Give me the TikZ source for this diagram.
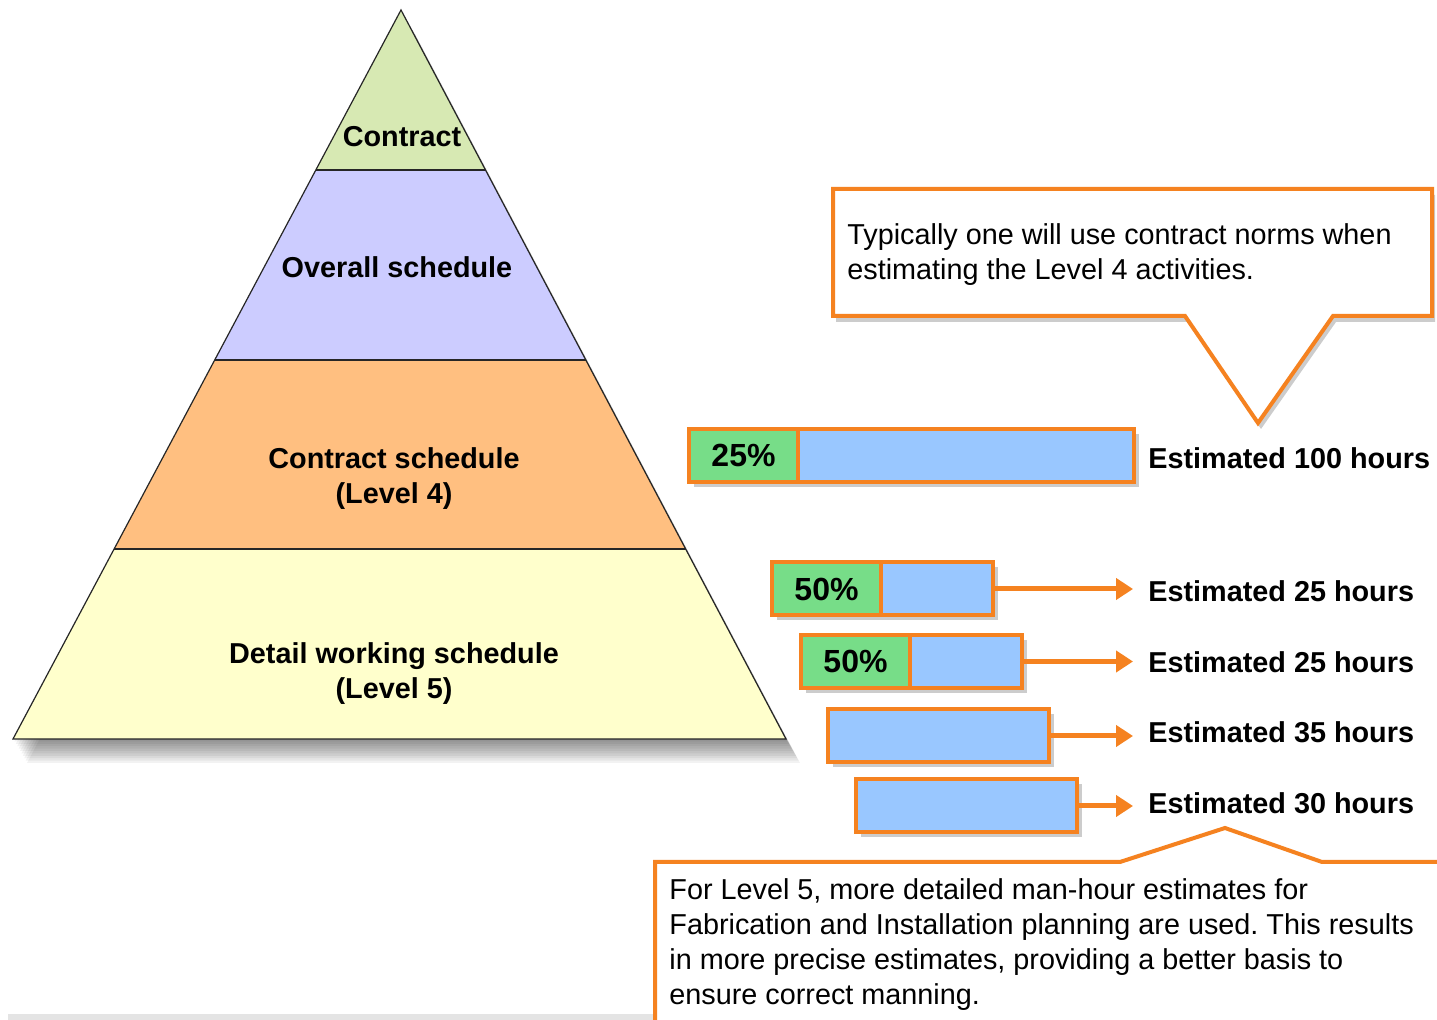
\documentclass[tikz,border=0pt]{standalone}
\usepackage{fontspec}
\setmainfont{Liberation Sans}
\usetikzlibrary{arrows.meta,shadows}
\definecolor{orng}{RGB}{245,130,32}
\definecolor{barblue}{RGB}{153,199,255}
\definecolor{bargreen}{RGB}{119,221,136}
\definecolor{bandA}{RGB}{215,233,179}
\definecolor{bandB}{RGB}{204,204,255}
\definecolor{bandC}{RGB}{255,191,128}
\definecolor{bandD}{RGB}{255,255,204}
\definecolor{edgegray}{RGB}{228,228,228}
\frenchspacing
\begin{document}
\begin{tikzpicture}[x=0.5pt,y=-0.5pt,
  band/.style={draw=black!85, line width=0.6pt},
  ptxt/.style={font=\fontsize{14.4pt}{17.5pt}\selectfont\bfseries, inner sep=0pt, anchor=base},
  lbl/.style={font=\fontsize{14.4pt}{17.5pt}\selectfont\bfseries, inner sep=0pt, anchor=base west},
  note/.style={font=\fontsize{14.4pt}{17.5pt}\selectfont, inner sep=0pt, anchor=base west},
  barbase/.style={draw=orng, line width=2pt, fill=barblue, inner sep=0pt, minimum height=26.5pt, anchor=west},
  bar/.style={barbase, drop shadow={shadow xshift=2.5pt, shadow yshift=-2.5pt, fill=black, opacity=0.2}},
  gbox/.style={barbase, fill=bargreen, minimum width=54.5pt, font=\fontsize{16pt}{18pt}\selectfont\bfseries},
  arr/.style={draw=orng, line width=2.5pt, -{Triangle[length=8.5pt,width=10.5pt]}, shorten >=7.5pt},
  callout/.style={draw=orng, line width=2pt, fill=white, line join=miter, drop shadow={shadow xshift=1.5pt, shadow yshift=-3pt, fill=black, opacity=0.2}}
]
\fill[white] (0,0) rectangle (1437,1020);
\useasboundingbox (0,0) rectangle (1437,1020);
\clip (0,0) rectangle (1437,1020);

% bottom grey edge
\fill[edgegray] (8,1014) rectangle (653,1020);

% pyramid shadow
\foreach \i in {1,...,10} {
  \fill[black, opacity=0.05, shift={(\i*1.4,\i*2.4)}] (401,10) -- (786,739) -- (13,739) -- cycle;
}
% pyramid bands
\fill[bandA] (401,10) -- (485.5,170) -- (315.84,170) -- cycle;
\fill[bandB] (315.84,170) -- (485.5,170) -- (585.84,360) -- (214.72,360) -- cycle;
\fill[bandC] (214.72,360) -- (585.84,360) -- (685.66,549) -- (114.13,549) -- cycle;
\fill[bandD] (114.13,549) -- (685.66,549) -- (786,739) -- (13,739) -- cycle;
\draw[band] (401,10) -- (786,739) -- (13,739) -- cycle;
\draw[band] (315.84,170) -- (485.5,170);
\draw[band] (214.72,360) -- (585.84,360);
\draw[band] (114.13,549) -- (685.66,549);

\node[ptxt] (t1) at (402,147) {Contract};
\node[ptxt] (t2) at (397,278) {Overall schedule};
\node[ptxt] (t3a) at (394,469) {Contract schedule};
\node[ptxt] (t3b) at (394,504) {(Level 4)};
\node[ptxt] (t4a) at (394,664) {Detail working schedule};
\node[ptxt] (t4b) at (394,699) {(Level 5)};

% top callout
\path[callout] (833,189) -- (1432,189) -- (1432,316) -- (1333,316) -- (1258,423) -- (1185,316) -- (833,316) -- cycle;
\node[note] (n1a) at (847,245) {Typically one will use contract norms when};
\node[note] (n1b) at (847,280) {estimating the Level 4 activities.};

% bars
\node[bar, minimum width=222.5pt] (b1) at (687,455.5) {};
\node[gbox] (g1) at (687,455.5) {25\%};
\node[bar, minimum width=110.5pt] (b2) at (770,589) {};
\node[gbox] (g2) at (770,589) {50\%};
\node[bar, minimum width=110.5pt] (b3) at (799,661.5) {};
\node[gbox] (g3) at (799,661.5) {50\%};
\node[bar, minimum width=110.5pt] (b4) at (826,736) {};
\node[bar, minimum width=110.5pt] (b5) at (854,806) {};

\node[lbl] (l1) at (1148,469) {Estimated 100 hours};
\node[lbl] (l2) at (1148,602) {Estimated 25 hours};
\node[lbl] (l3) at (1148,673) {Estimated 25 hours};
\node[lbl] (l4) at (1148,743) {Estimated 35 hours};
\node[lbl] (l5) at (1148,814) {Estimated 30 hours};

\draw[arr] (b2.east) -- (b2.east -| l2.west);
\draw[arr] (b3.east) -- (b3.east -| l3.west);
\draw[arr] (b4.east) -- (b4.east -| l4.west);
\draw[arr] (b5.east) -- (b5.east -| l5.west);

% bottom callout
\path[callout] (655,1040) -- (655,862) -- (1120,862) -- (1225,828) -- (1322,862) -- (1460,862) -- (1460,1040) -- cycle;
\node[note] (n2a) at (669,900) {For Level 5, more detailed man-hour estimates for};
\node[note] (n2b) at (669,935) {Fabrication and Installation planning are used. This results};
\node[note] (n2c) at (669,970) {in more precise estimates, providing a better basis to};
\node[note] (n2d) at (669,1005) {ensure correct manning.};
\end{tikzpicture}
\end{document}
